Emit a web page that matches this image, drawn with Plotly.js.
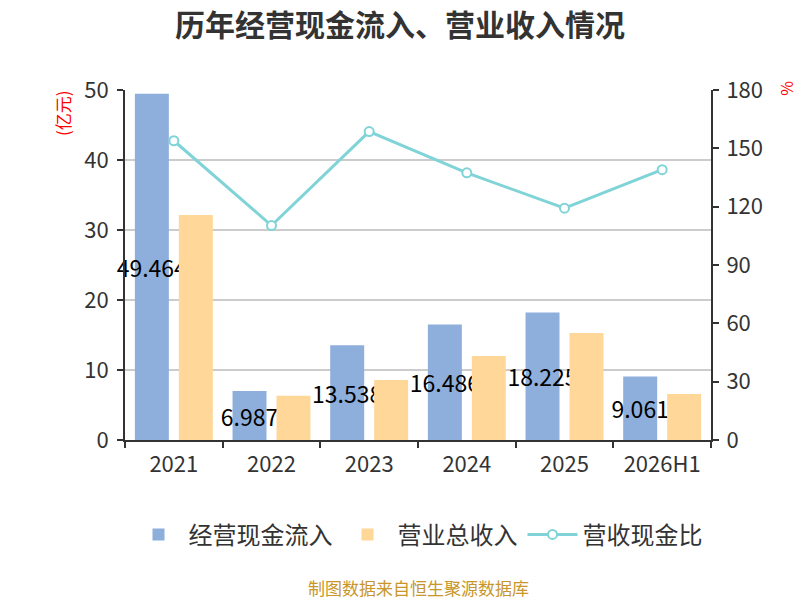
<!DOCTYPE html>
<html>
<head>
<meta charset="utf-8">
<script src="https://cdn.plot.ly/plotly-3.0.1.min.js"></script>
<style>
  html, body { margin: 0; padding: 0; background: #fff; }
  #chart { width: 800px; height: 600px; }
</style>
</head>
<body>
<div id="chart"></div>
<script>
var years = ['2021', '2022', '2023', '2024', '2025', '2026H1'];
var cashIn = [49.464, 6.987, 13.538, 16.486, 18.225, 9.061];
var revenue = [32.14, 6.33, 8.57, 12.0, 15.29, 6.57];
var ratio = [153.9, 110.3, 158.6, 137.4, 119.2, 139.0];

var font = 'Noto Sans CJK SC, Open Sans, sans-serif';

var cash_trace = {
  x: years,
  y: cashIn,
  name: '经营现金流入',
  type: 'bar',
  marker: {color: '#8eaedb'},
  text: cashIn.map(function (v) { return v.toFixed(3); }),
  textposition: 'inside',
  insidetextanchor: 'middle',
  constraintext: 'none',
  textangle: 0,
  cliponaxis: false,
  insidetextfont: {family: font, size: 23, color: '#000'},
  hoverinfo: 'none'
};

var revenue_trace = {
  x: years,
  y: revenue,
  name: '营业总收入',
  type: 'bar',
  marker: {color: '#ffd899'},
  hoverinfo: 'none'
};

var ratio_trace = {
  x: years,
  y: ratio,
  name: '营收现金比',
  type: 'scatter',
  mode: 'lines+markers',
  yaxis: 'y2',
  line: {color: '#80d4d8', width: 3},
  marker: {symbol: 'circle', size: 9, color: '#fff', line: {color: '#80d4d8', width: 2}},
  hoverinfo: 'none'
};

var tickfont = {family: font, size: 22, color: '#333'};

var layout = {
  width: 800,
  height: 600,
  margin: {t: 90, b: 160, l: 125, r: 89},
  paper_bgcolor: '#fff',
  plot_bgcolor: '#fff',
  font: {family: font, color: '#333'},
  title: {
    text: '<b>历年经营现金流入、营业收入情况</b>',
    font: {family: font, size: 30, color: '#333'},
    x: 0.5, xanchor: 'center',
    y: 0.958, yanchor: 'middle'
  },
  barmode: 'group',
  bargap: 0.1,
  bargroupgap: 0.227,
  xaxis: {
    type: 'category',
    showline: true,
    linecolor: '#333',
    linewidth: 2,
    ticks: 'outside',
    tickson: 'boundaries',
    ticklen: 6,
    tickcolor: '#333',
    tickwidth: 2,
    ticklabelstandoff: 4,
    tickfont: tickfont,
    showgrid: false,
    zeroline: false
  },
  yaxis: {
    range: [0, 50],
    dtick: 10,
    showline: true,
    linecolor: '#333',
    linewidth: 2,
    ticks: 'outside',
    ticklen: 6,
    tickcolor: '#333',
    tickwidth: 2,
    ticklabelstandoff: 4,
    tickfont: tickfont,
    gridcolor: '#cccccc',
    gridwidth: 1.5,
    zeroline: false
  },
  yaxis2: {
    range: [0, 180],
    dtick: 30,
    overlaying: 'y',
    side: 'right',
    showline: true,
    linecolor: '#333',
    linewidth: 2,
    ticks: 'outside',
    ticklen: 6,
    tickcolor: '#333',
    tickwidth: 2,
    ticklabelstandoff: 3,
    tickfont: tickfont,
    showgrid: false,
    zeroline: false
  },
  legend: {
    orientation: 'h',
    x: 0.5, xanchor: 'center',
    y: -0.271, yanchor: 'middle',
    font: {family: font, size: 24, color: '#333'},
    itemwidth: 50,
    traceorder: 'normal'
  },
  annotations: [
    {
      text: '(亿元)',
      xref: 'paper', yref: 'paper',
      x: -0.107, y: 0.935,
      xanchor: 'center', yanchor: 'middle',
      textangle: -90,
      showarrow: false,
      font: {family: font, size: 17, color: '#ff0000'}
    },
    {
      text: '%',
      xref: 'paper', yref: 'paper',
      x: 1.129, y: 1.005,
      xanchor: 'center', yanchor: 'middle',
      textangle: -90,
      showarrow: false,
      font: {family: font, size: 16, color: '#ff0000'}
    },
    {
      text: '制图数据来自恒生聚源数据库',
      xref: 'paper', yref: 'paper',
      x: 0.5, y: -0.42,
      xanchor: 'center', yanchor: 'middle',
      showarrow: false,
      font: {family: font, size: 17, color: '#c8962a'}
    }
  ]
};

Plotly.newPlot('chart', [cash_trace, revenue_trace, ratio_trace], layout, {displayModeBar: false, staticPlot: true});
</script>
</body>
</html>
